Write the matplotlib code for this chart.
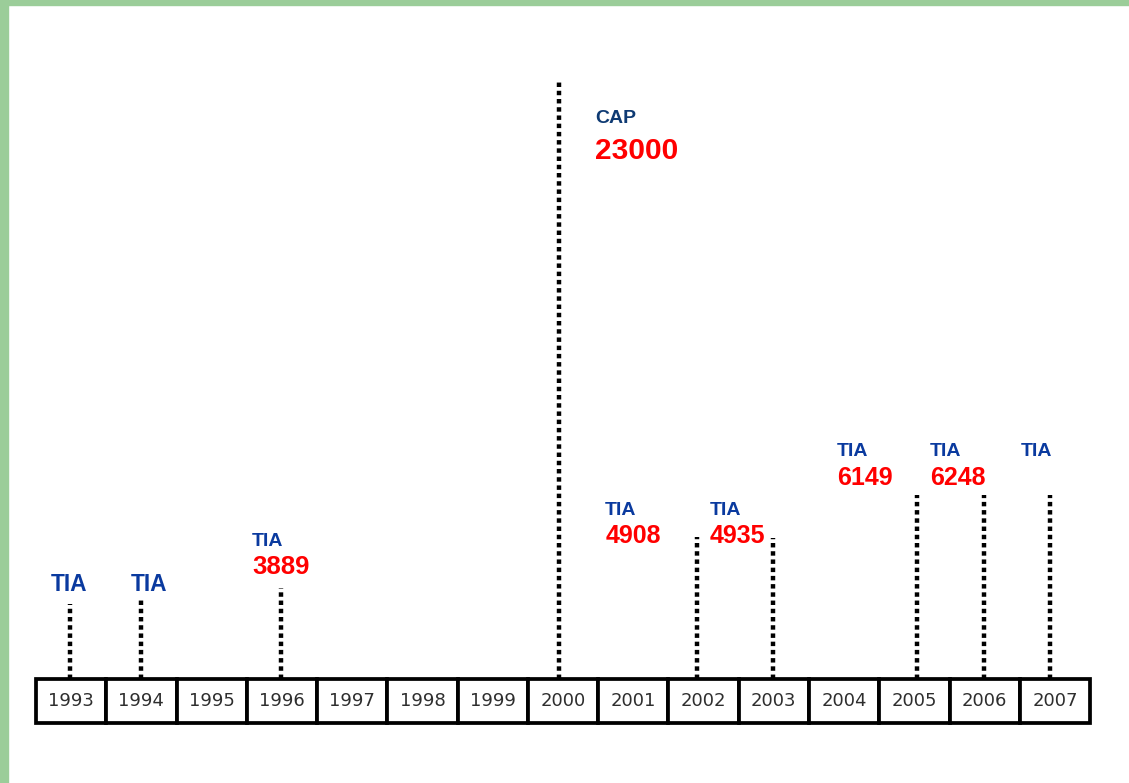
import matplotlib
matplotlib.use('Agg')
import matplotlib.pyplot as plt
from matplotlib.patches import Rectangle

# timeline data
years = list(range(1993, 2008))

line_years = [1993, 1994, 1996, 2000, 2002, 2003, 2005, 2006, 2007]
line_heights = [75, 80, 91, 598, 142, 141, 184, 184, 184]

label_kinds = ['TIA', 'TIA', 'TIA', 'CAP', 'TIA', 'TIA', 'TIA', 'TIA', 'TIA']
label_values = [None, None, 3889, 23000, 4908, 4935, 6149, 6248, None]

# layout of the label blocks: left x (in years), baseline of kind / value
label_x = [1992.716, 1993.852, 1995.575, 2000.455, 2000.60, 2002.09, 2003.90, 2005.22, 2006.51]
kind_y = [88, 88, 133, 556, 164, 164, 223, 223, 223]
value_y = [None, None, 105, 520, 136, 136, 194, 194, None]
kind_size = [16.4, 16.4, 14, 14, 14, 14, 14, 14, 14]
value_size = [18, 18, 18.5, 21.5, 18, 18, 18, 18, 18]
# small horizontal nudges of the stems (pixels), as drawn in the original
stem_dx = [-1, 0, -1, -4.5, -7, -1, 3, -1, -5]

W, H = 1129, 783
box_w = 70.27
x0 = 36 + box_w / 2  # pixel centre of first box
base = 679           # pixel row of the timeline top

fig = plt.figure(figsize=(W / 100, H / 100), dpi=100)
ax = fig.add_axes([0, 0, 1, 1])
ax.set_xlim(1993 - x0 / box_w, 1993 + (W - x0) / box_w)
ax.set_ylim(base - H, base)
ax.axis('off')

# green frame (left + top)
fig.patches.append(Rectangle((0, 0), 8 / W, 1, transform=fig.transFigure,
                             color='#9bcd99', zorder=0))
fig.patches.append(Rectangle((0, 1 - 5 / H), 1, 5 / H, transform=fig.transFigure,
                             color='#9bcd99', zorder=0))

# dotted stems
stem_x = [y + d / box_w for y, d in zip(line_years, stem_dx)]
ax.vlines(stem_x, 0, line_heights, colors='black', linewidth=3.2,
          linestyles=(0, (1, 0.85)), zorder=2)

# year boxes
for y in years:
    ax.add_patch(Rectangle((y - 0.5, -44), 1, 44, fill=True, facecolor='white',
                           edgecolor='black', linewidth=2.7, zorder=3))
    ax.text(y, -22.5, str(y), ha='center', va='center', fontsize=13,
            color='#2e2e2e', family='DejaVu Sans', zorder=4)

# labels
for i, kind in enumerate(label_kinds):
    kcolor = '#0e3a73' if kind == 'CAP' else '#0a3a9f'
    ax.text(label_x[i], kind_y[i], kind, ha='left', va='baseline',
            fontsize=kind_size[i], fontweight='bold', color=kcolor,
            family='Liberation Sans')
    if label_values[i] is not None:
        ax.text(label_x[i], value_y[i], str(label_values[i]), ha='left',
                va='baseline', fontsize=value_size[i], fontweight='bold',
                color='#ff0000', family='Liberation Sans')

fig.savefig('out.png', dpi=100, facecolor='white')
